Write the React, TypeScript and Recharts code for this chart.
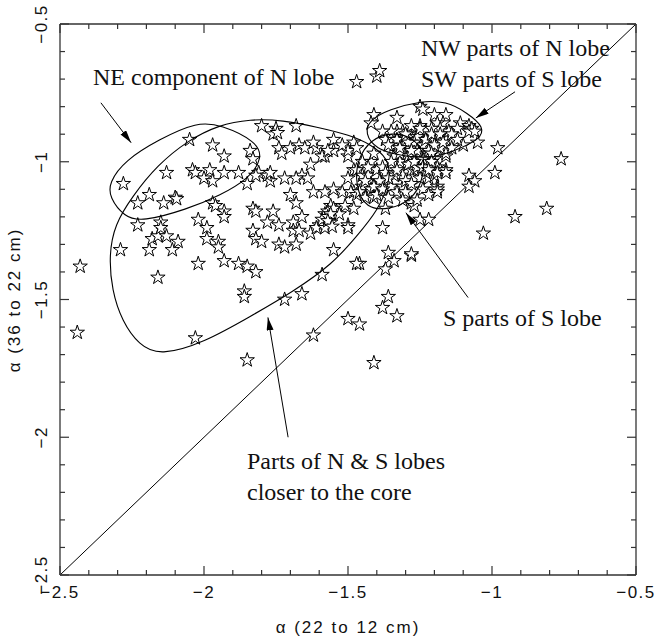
import React from 'react';
import { ReferenceLine, Scatter, ScatterChart, XAxis, YAxis, ZAxis } from 'recharts';

// spectral index pairs: [alpha 22-12 cm, alpha 36-22 cm]
const leftLobe = [
  [-2.44, -1.62], [-2.43, -1.38], [-2.29, -1.32], [-2.28, -1.08], [-2.23, -1.15], [-2.23, -1.23],
  [-2.19, -1.12], [-2.19, -1.32], [-2.18, -1.28], [-2.16, -1.42], [-2.16, -1.27], [-2.15, -1.22],
  [-2.15, -1.24], [-2.14, -1.15], [-2.13, -1.04], [-2.13, -1.27], [-2.11, -1.32], [-2.1, -1.13],
  [-2.095, -1.135], [-2.09, -1.29], [-2.05, -0.92], [-2.04, -1.03], [-2.03, -1.04], [-2.03, -1.64],
  [-2.02, -1.37], [-2.02, -1.21], [-2.0, -1.06], [-1.99, -1.24], [-1.99, -1.28], [-1.98, -1.03],
  [-1.97, -1.07], [-1.97, -0.94], [-1.97, -1.15], [-1.96, -1.16], [-1.95, -1.29], [-1.95, -1.31],
  [-1.93, -0.98], [-1.93, -1.04], [-1.93, -1.18], [-1.93, -1.2], [-1.93, -1.36], [-1.88, -1.04],
  [-1.88, -1.37], [-1.85, -1.08], [-1.85, -1.38], [-1.85, -1.72], [-1.84, -0.96], [-1.83, -0.99],
  [-1.86, -1.47], [-1.86, -1.49], [-1.82, -1.4], [-1.83, -1.17], [-1.82, -1.18], [-1.83, -1.25],
  [-1.82, -1.28], [-1.8, -1.29], [-1.81, -1.04], [-1.82, -1.05], [-1.8, -0.87],
];

const middleBand = [
  [-1.76, -1.18], [-1.78, -1.22], [-1.74, -1.23], [-1.74, -1.3], [-1.72, -1.31], [-1.68, -1.3],
  [-1.69, -1.22], [-1.69, -1.25], [-1.67, -1.25], [-1.66, -1.2], [-1.63, -1.26], [-1.6, -1.23],
  [-1.58, -1.19], [-1.56, -1.16], [-1.57, -1.18], [-1.54, -1.18], [-1.55, -1.17], [-1.5, -1.23],
  [-1.55, -1.32], [-1.59, -1.41], [-1.51, -1.16], [-1.48, -1.17], [-1.48, -1.11], [-1.5, -1.06],
  [-1.48, -1.03], [-1.5, -0.98], [-1.5, -0.96], [-1.48, -0.93], [-1.47, -0.95], [-1.55, -0.92],
  [-1.55, -0.96], [-1.58, -0.98], [-1.59, -0.98], [-1.61, -0.95], [-1.63, -1.01], [-1.66, -1.05],
  [-1.64, -1.06], [-1.68, -1.06], [-1.72, -1.06], [-1.77, -1.07], [-1.78, -1.05], [-1.77, -1.04],
  [-1.75, -0.88], [-1.76, -0.9], [-1.745, -0.895], [-1.68, -0.87], [-1.74, -0.95], [-1.73, -0.97],
  [-1.7, -0.95], [-1.67, -0.94], [-1.65, -0.95], [-1.62, -1.11], [-1.58, -1.11], [-1.55, -1.1],
  [-1.52, -1.11], [-1.49, -1.11], [-1.47, -1.12], [-1.7, -1.12], [-1.68, -1.15], [-1.59, -1.21],
  [-1.61, -1.24], [-1.57, -1.2], [-1.56, -1.22], [-1.58, -1.24], [-1.53, -1.19], [-1.5, -1.24],
  [-1.62, -0.93], [-1.57, -0.96], [-1.52, -0.94], [-1.56, -1.19], [-1.57, -1.215], [-1.555, -1.235],
];

const belowBand = [
  [-1.72, -1.5], [-1.66, -1.48], [-1.62, -1.63], [-1.5, -1.57], [-1.46, -1.59], [-1.41, -1.73],
  [-1.36, -1.49], [-1.38, -1.53], [-1.33, -1.56], [-1.46, -1.37], [-1.47, -1.37], [-1.37, -1.39],
  [-1.34, -1.36], [-1.36, -1.33], [-1.28, -1.34], [-1.28, -1.335], [-1.03, -1.26], [-0.92, -1.2],
  [-0.81, -1.17], [-0.76, -0.99],
];

const sLobeSouth = [
  [-1.45, -1.0], [-1.42, -1.0], [-1.47, -1.03], [-1.45, -1.05], [-1.43, -1.05], [-1.42, -1.08],
  [-1.45, -1.09], [-1.46, -1.11], [-1.44, -1.13], [-1.42, -1.1], [-1.4, -1.09], [-1.41, -1.13],
  [-1.41, -0.97], [-1.4, -1.03], [-1.39, -1.07], [-1.41, -1.09], [-1.37, -1.17], [-1.38, -1.24],
  [-1.35, -1.09], [-1.33, -1.11], [-1.31, -1.09], [-1.3, -1.11], [-1.31, -1.14], [-1.28, -1.15],
  [-1.27, -1.16], [-1.26, -1.14], [-1.25, -1.21], [-1.22, -1.21], [-1.38, -1.02], [-1.37, -1.04],
  [-1.34, -1.05], [-1.31, -1.05], [-1.43, -1.02], [-1.44, -1.07], [-1.4, -1.12], [-1.38, -1.1],
  [-1.36, -1.13],
];

const nwCluster = [
  [-1.47, -0.71], [-1.4, -0.69], [-1.39, -0.67], [-1.25, -0.8], [-1.24, -0.81], [-1.41, -0.83],
  [-1.42, -0.86], [-1.33, -0.84], [-1.2, -0.83], [-1.16, -0.83], [-1.17, -0.86], [-1.11, -0.86],
  [-1.08, -0.87], [-1.07, -0.88], [-1.08, -0.89], [-1.06, -0.89], [-1.16, -0.92], [-1.15, -0.89],
  [-1.12, -0.88], [-1.19, -0.86], [-1.18, -0.88], [-1.22, -0.91], [-1.25, -0.87], [-1.27, -0.89],
  [-1.26, -0.93], [-1.28, -0.91], [-1.31, -0.89], [-1.33, -0.89], [-1.35, -0.89], [-1.38, -0.89],
  [-1.37, -0.92], [-1.34, -0.94], [-1.31, -0.94], [-1.24, -0.92], [-1.23, -0.96], [-1.22, -0.98],
  [-1.2, -0.99], [-1.24, -0.97], [-1.27, -0.97], [-1.3, -0.99], [-1.32, -1.0], [-1.34, -0.98],
  [-1.35, -1.0], [-1.28, -1.03], [-1.27, -1.03], [-1.25, -1.0], [-1.19, -1.02], [-1.16, -0.98],
  [-1.18, -1.03], [-1.16, -1.03], [-1.22, -1.06], [-1.2, -1.05], [-1.19, -1.09], [-1.19, -1.1],
  [-1.1, -0.94], [-1.05, -0.93], [-0.98, -0.95], [-0.99, -1.04], [-1.08, -1.05], [-1.06, -1.07],
  [-1.08, -1.09], [-1.16, -0.97], [-1.19, -1.04], [-1.16, -1.04], [-1.19, -1.11], [-1.29, -0.95],
  [-1.27, -0.95], [-1.25, -0.95], [-1.29, -0.98], [-1.26, -0.99], [-1.23, -1.01], [-1.26, -1.02],
  [-1.29, -1.01], [-1.22, -0.94], [-1.25, -0.9], [-1.23, -0.89], [-1.21, -0.88], [-1.3, -0.92],
  [-1.33, -0.92], [-1.36, -0.94], [-1.32, -0.97], [-1.28, -0.87], [-1.14, -0.9], [-1.12, -0.92],
  [-1.14, -0.95], [-1.2, -0.92], [-1.18, -0.95], [-1.23, -1.04], [-1.25, -1.06], [-1.3, -1.07],
  [-1.28, -1.08], [-1.33, -1.03], [-1.36, -1.06], [-1.24, -1.1], [-1.22, -1.12],
  [-1.26, -0.91], [-1.24, -0.94], [-1.22, -0.96], [-1.25, -0.97], [-1.27, -0.93], [-1.29, -0.93],
  [-1.23, -0.92], [-1.21, -0.9], [-1.2, -0.94], [-1.21, -0.97], [-1.24, -0.99], [-1.27, -1.0],
  [-1.25, -0.88], [-1.3, -0.9], [-1.32, -0.95], [-1.18, -0.9], [-1.17, -0.93], [-1.21, -1.0],
  [-1.26, -0.96], [-1.28, -0.96], [-1.24, -1.02], [-1.22, -1.03],
];

// hand-drawn region outlines (data units)
const neOutline = [
  [-2.33, -1.076], [-2.275, -0.995], [-2.155, -0.918], [-2.024, -0.855], [-1.94, -0.866],
  [-1.82, -0.925], [-1.795, -0.985], [-1.845, -1.062], [-1.944, -1.122], [-2.06, -1.173],
  [-2.215, -1.218], [-2.277, -1.2], [-2.328, -1.13],
];
const coreOutline = [
  [-2.153, -1.705], [-1.997, -1.655], [-1.84, -1.562], [-1.691, -1.472], [-1.552, -1.37],
  [-1.47, -1.27], [-1.398, -1.18], [-1.35, -1.065], [-1.362, -0.985], [-1.42, -0.938],
  [-1.493, -0.903], [-1.608, -0.874], [-1.726, -0.849], [-1.84, -0.845], [-1.95, -0.867],
  [-2.055, -0.922], [-2.162, -1.012], [-2.25, -1.127], [-2.31, -1.228], [-2.33, -1.337],
  [-2.32, -1.467], [-2.284, -1.58], [-2.226, -1.665],
];
const nwOutline = [
  [-1.442, -0.898], [-1.425, -0.848], [-1.357, -0.81], [-1.25, -0.78], [-1.158, -0.78],
  [-1.087, -0.822], [-1.025, -0.875], [-1.043, -0.92], [-1.125, -0.958], [-1.215, -0.99],
  [-1.322, -0.977], [-1.402, -0.955],
];
const sOutline = [
  [-1.475, -1.085], [-1.468, -0.99], [-1.42, -0.918], [-1.347, -0.892], [-1.272, -0.912],
  [-1.232, -0.972], [-1.24, -1.07], [-1.28, -1.14], [-1.354, -1.173], [-1.438, -1.172],
];

// annotation arrows: [tail, tip]
const arrowNE = [[-2.358, -0.786], [-2.253, -0.931]];
const arrowNW = [[-0.92, -0.746], [-1.056, -0.841]];
const arrowS = [[-1.083, -1.493], [-1.299, -1.185]];
const arrowCore = [[-1.708, -2.0], [-1.778, -1.565]];

const axisTicks = [
  -2.5, -2.4, -2.3, -2.2, -2.1, -2, -1.9, -1.8, -1.7, -1.6, -1.5, -1.4, -1.3, -1.2, -1.1, -1,
  -0.9, -0.8, -0.7, -0.6, -0.5,
];
const majorTicks = [-2.5, -2, -1.5, -1, -0.5];
const majorLabels = ['\u22122.5', '\u22122', '\u22121.5', '\u22121', '\u22120.5'];

const FRAME = '#333';
const SANS = '"Liberation Sans", Arial, Helvetica, sans-serif';
const SERIF = '"Liberation Serif", "Times New Roman", serif';

const toPoints = (pairs: number[][]) => pairs.map(([x, y]) => ({ x, y }));
const stars = toPoints([...leftLobe, ...middleBand, ...belowBand, ...sLobeSouth, ...nwCluster]);

const majorIndex = (v: number) => majorTicks.findIndex((m) => Math.abs(m - v) < 1e-6);
const tickLen = (v: number) => (majorIndex(v) >= 0 ? 9 : 5);

const BottomTick = ({ x, y, payload }: any) => {
  const i = majorIndex(payload.value);
  return (
    <g>
      <line x1={x} x2={x} y1={y} y2={y - tickLen(payload.value)} stroke={FRAME} strokeWidth={1.2} />
      {i >= 0 && (
        <text x={x} y={y + 23} textAnchor="middle" fontFamily={SANS} fontSize={17} letterSpacing={1.5} fill="#111">
          {majorLabels[i]}
        </text>
      )}
    </g>
  );
};

const TopTick = ({ x, y, payload }: any) => (
  <line x1={x} x2={x} y1={y} y2={y + tickLen(payload.value)} stroke={FRAME} strokeWidth={1.2} />
);

const LeftTick = ({ x, y, payload }: any) => {
  const i = majorIndex(payload.value);
  const lx = x - 13;
  return (
    <g>
      <line x1={x} x2={x + tickLen(payload.value)} y1={y} y2={y} stroke={FRAME} strokeWidth={1.2} />
      {i >= 0 && (
        <text
          x={lx}
          y={y}
          transform={`rotate(-90, ${lx}, ${y})`}
          textAnchor="middle"
          fontFamily={SANS}
          fontSize={17}
          letterSpacing={1.5}
          fill="#111"
        >
          {majorLabels[i]}
        </text>
      )}
    </g>
  );
};

const RightTick = ({ x, y, payload }: any) => (
  <line x1={x} x2={x - tickLen(payload.value)} y1={y} y2={y} stroke={FRAME} strokeWidth={1.2} />
);

const NoMark = () => <g />;

const outlineLine = { stroke: '#000', strokeWidth: 1.1 };
const arrowLine = { stroke: '#000', strokeWidth: 1, markerEnd: 'url(#annoArrow)' };

const notes = [
  { lines: ['NE component of N lobe'], x: 93, y: 85 },
  { lines: ['NW parts of N lobe', 'SW parts of S lobe'], x: 421, y: 56 },
  { lines: ['S parts of S lobe'], x: 443, y: 326 },
  { lines: ['Parts of N & S lobes', 'closer to the core'], x: 247, y: 469 },
];

const axisCommon = {
  type: 'number' as const,
  domain: [-2.5, -0.5],
  allowDataOverflow: true,
  ticks: axisTicks,
  interval: 0 as const,
  tickSize: 0,
  tickMargin: 0,
  tickLine: false,
  axisLine: { stroke: FRAME, strokeWidth: 1.3 },
};

export default function App() {
  return (
    <div style={{ position: 'absolute', left: 0, top: 0, width: 657, height: 640, background: '#fff' }}>
      <svg width={0} height={0} style={{ position: 'absolute' }}>
        <defs>
          <marker id="annoArrow" markerUnits="userSpaceOnUse" markerWidth={14} markerHeight={8} refX={13} refY={3.5} orient="auto">
            <path d="M0,0 L13,3.5 L0,7 z" fill="#000" />
          </marker>
        </defs>
      </svg>
      <ScatterChart width={657} height={640} margin={{ top: 23, right: 20, bottom: 64, left: 59 }}>
        <XAxis {...axisCommon} dataKey="x" height={1} tick={(p: any) => <BottomTick {...p} />} />
        <XAxis
          {...axisCommon}
          xAxisId="top"
          orientation="top"
          dataKey="x"
          height={1}
          tick={(p: any) => <TopTick {...p} />}
        />
        <YAxis {...axisCommon} dataKey="y" width={1} tick={(p: any) => <LeftTick {...p} />} />
        <YAxis
          {...axisCommon}
          yAxisId="right"
          orientation="right"
          dataKey="y"
          width={1}
          tick={(p: any) => <RightTick {...p} />}
        />
        <ZAxis range={[32, 32]} />
        <ReferenceLine
          segment={[{ x: -2.5, y: -2.5 }, { x: -0.5, y: -0.5 }]}
          stroke="#000"
          strokeWidth={1}
        />
        <Scatter data={stars} shape="star" fill="#fff" stroke="#000" strokeWidth={1} isAnimationActive={false} />
        {[neOutline, coreOutline, nwOutline, sOutline].map((o, i) => (
          <Scatter
            key={`o${i}`}
            data={toPoints(o)}
            line={outlineLine}
            lineJointType="basisClosed"
            shape={NoMark}
            fill="none"
            isAnimationActive={false}
          />
        ))}
        {[arrowNE, arrowNW, arrowS, arrowCore].map((a, i) => (
          <Scatter
            key={`a${i}`}
            data={toPoints(a)}
            line={arrowLine}
            shape={NoMark}
            fill="none"
            isAnimationActive={false}
          />
        ))}
      </ScatterChart>
      <svg width={657} height={640} style={{ position: 'absolute', left: 0, top: 0, pointerEvents: 'none' }}>
        {notes.map((n) => (
          <text key={n.lines[0]} x={n.x} y={n.y} fontFamily={SERIF} fontSize={24} fill="#111">
            {n.lines.map((l, j) => (
              <tspan key={l} x={n.x} dy={j === 0 ? 0 : 31}>
                {l}
              </tspan>
            ))}
          </text>
        ))}
        <text x={348} y={633} textAnchor="middle" fontFamily={SANS} fontSize={17} letterSpacing={2} fill="#111">
          α (22 to 12 cm)
        </text>
        <text
          x={20}
          y={300}
          transform="rotate(-90, 20, 300)"
          textAnchor="middle"
          fontFamily={SANS}
          fontSize={17}
          letterSpacing={2}
          fill="#111"
        >
          α (36 to 22 cm)
        </text>
      </svg>
    </div>
  );
}
